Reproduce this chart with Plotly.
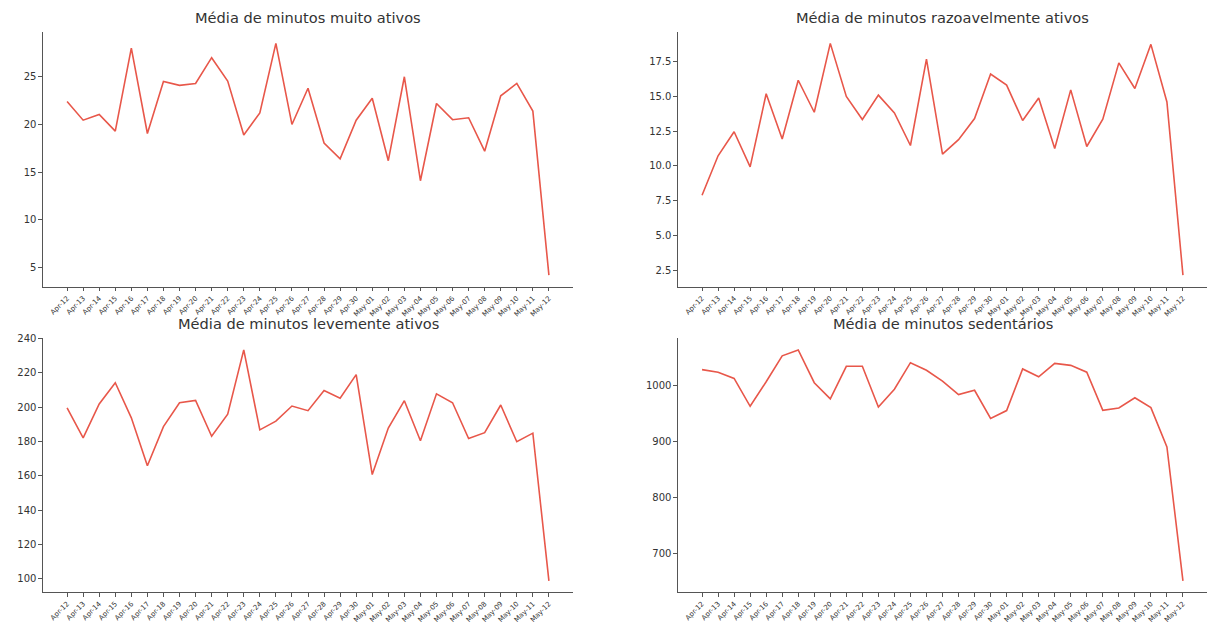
import plotly.graph_objects as go
from plotly.subplots import make_subplots

# --- Dados ---
dias = ["Apr-%02d" % d for d in range(12, 31)] + ["May-%02d" % d for d in range(1, 13)]

muito_ativos = [22.4, 20.45, 21.05, 19.3, 28.0, 19.05, 24.5, 24.1, 24.3, 27.0, 24.55,
                18.9, 21.2, 28.5, 20.0, 23.8, 18.05, 16.4, 20.45, 22.75, 16.2, 25.0,
                14.1, 22.2, 20.5, 20.7, 17.2, 23.0, 24.3, 21.4, 4.2]

razoavelmente_ativos = [7.88, 10.72, 12.45, 9.92, 15.18, 11.93, 16.15, 13.85, 18.8, 14.99,
                        13.33, 15.08, 13.8, 11.46, 17.67, 10.84, 11.88, 13.4, 16.6, 15.8,
                        13.26, 14.87, 11.24, 15.46, 11.39, 13.35, 17.4, 15.56, 18.73,
                        14.59, 2.14]

levemente_ativos = [199.6, 182.2, 201.9, 214.3, 193.8, 165.9, 188.7, 202.6, 204.0, 183.1,
                    195.9, 233.4, 186.8, 191.9, 200.7, 198.0, 209.7, 205.3, 219.0, 160.8,
                    187.9, 203.8, 180.5, 207.8, 202.6, 181.8, 185.2, 201.3, 179.9, 184.9,
                    98.9]

sedentarios = [1027.4, 1022.8, 1011.7, 962.1, 1005.8, 1052.0, 1062.5, 1004.1, 975.5,
               1033.3, 1033.3, 960.9, 992.4, 1039.7, 1026.3, 1007.0, 983.1, 990.7, 940.5,
               954.5, 1028.6, 1014.6, 1038.5, 1035.0, 1022.8, 955.0, 959.0, 977.2, 959.7,
               889.7, 651.5]

titulos = ["Média de minutos muito ativos", "Média de minutos razoavelmente ativos",
           "Média de minutos levemente ativos", "Média de minutos sedentários"]
series = [muito_ativos, razoavelmente_ativos, levemente_ativos, sedentarios]
dticks = [5, 2.5, 20, 100]
formatos = ["d", ".1f", "d", "d"]

W, H = 1222, 634
cor_linha = "#e8574a"
cor_eixo = "#555555"
cor_texto = "#333333"

# posicoes dos eixos em pixels (esq, dir, topo, base)
caixas = [(43, 573, 27, 284), (678, 1207, 27, 284),
          (43, 573, 336, 592), (678, 1207, 336, 592)]

fig = make_subplots(rows=2, cols=2)

for i, (vals, titulo) in enumerate(zip(series, titulos)):
    r, c = i // 2 + 1, i % 2 + 1
    fig.add_trace(go.Scatter(x=dias, y=vals, mode="lines",
                             line=dict(color=cor_linha, width=1.6),
                             showlegend=False), row=r, col=c)
    esq, dir_, topo, base = caixas[i]
    lo, hi = min(vals), max(vals)
    pad = (hi - lo) * 0.05
    sfx = "" if i == 0 else str(i + 1)
    fig.layout["xaxis" + sfx].update(
        domain=[esq / W, dir_ / W], range=[-1.5, 31.5],
        showline=True, linecolor=cor_eixo, linewidth=1.2, showgrid=False, zeroline=False,
        ticks="outside", ticklen=3.5, tickcolor=cor_eixo, tickangle=-45,
        tickfont=dict(size=7, color=cor_texto), tickmode="linear", dtick=1)
    fig.layout["yaxis" + sfx].update(
        domain=[1 - base / H, 1 - topo / H], range=[lo - pad, hi + pad],
        showline=True, linecolor=cor_eixo, linewidth=1.2, showgrid=False, zeroline=False,
        ticks="outside", ticklen=3.5, tickcolor=cor_eixo, dtick=dticks[i],
        tickformat=formatos[i], tickfont=dict(size=10, color=cor_texto))
    fig.add_annotation(text=titulo, x=(esq + dir_) / 2 / W, y=1 - topo / H,
                       xref="paper", yref="paper", xanchor="center", yanchor="bottom",
                       yshift=4, showarrow=False, font=dict(size=14.6, color=cor_texto))

fig.update_layout(
    width=W, height=H,
    margin=dict(l=0, r=0, t=0, b=0),
    plot_bgcolor="white", paper_bgcolor="white",
    font=dict(family="DejaVu Sans", color=cor_texto),
)

fig.write_html("out.html", config={"displayModeBar": False},
               post_script="document.body.style.margin = '0';")
